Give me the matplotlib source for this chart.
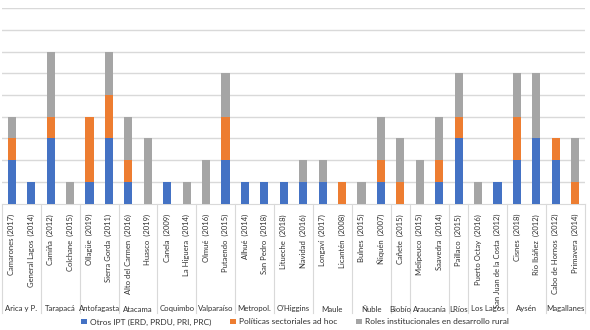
import numpy as np
import matplotlib
matplotlib.use("Agg")
import matplotlib.pyplot as plt
import matplotlib.transforms as mtransforms

plt.rcParams['font.family'] = ['Lato', 'DejaVu Sans']

# communes (year of plan) in chart order
communes = ["Camarones (2017)", "General Lagos  (2014)", "Camiña  (2012)", "Colchane  (2015)",
            "Ollagüe  (2019)", "Sierra Gorda  (2011)", "Alto del Carmen  (2016)", "Huasco  (2019)",
            "Canela  (2009)", "La Higuera  (2014)", "Olmué  (2016)", "Putaendo  (2015)",
            "Alhué  (2014)", "San Pedro  (2018)", "Litueche  (2018)", "Navidad  (2016)",
            "Longaví  (2017)", "Licantén  (2008)", "Bulnes  (2015)", "Ñiquén  (2007)",
            "Cañete  (2015)", "Melipeuco  (2015)", "Saavedra  (2014)", "Paillaco  (2015)",
            "Puerto Octay  (2016)", "San Juan de la Costa  (2012)", "Cisnes  (2018)",
            "Río Ibáñez  (2012)", "Cabo de Hornos  (2012)", "Primavera  (2014)"]

regions = ["Arica y P.", "Tarapacá", "Antofagasta", "Atacama", "Coquimbo", "Valparaíso",
           "Metropol.", "O'Higgins", "Maule", "Ñuble", "Biobío", "Araucanía", "LRíos",
           "Los Lagos", "Aysén", "Magallanes"]
region_sizes = [2, 2, 2, 2, 2, 2, 2, 2, 2, 2, 1, 2, 1, 2, 2, 2]

otros_ipt = [2, 1, 3, 0, 1, 3, 1, 0, 1, 0, 0, 2, 1, 1, 1, 1, 1, 0, 0, 1,
             0, 0, 1, 3, 0, 1, 2, 3, 2, 0]
politicas = [1, 0, 1, 0, 3, 2, 1, 0, 0, 0, 0, 2, 0, 0, 0, 0, 0, 1, 0, 1,
             1, 0, 1, 1, 0, 0, 2, 0, 1, 1]
roles = [1, 0, 3, 1, 0, 2, 2, 3, 0, 1, 2, 2, 0, 0, 0, 1, 1, 0, 1, 2,
         2, 2, 2, 2, 1, 0, 2, 3, 0, 2]

series_names = ["Otros IPT (ERD, PRDU, PRI, PRC)", "Políticas sectoriales ad hoc",
                "Roles institucionales en desarrollo rural"]
colors = ["#4472C4", "#ED7D31", "#A5A5A5"]

fig = plt.figure(figsize=(5.9, 3.3), dpi=100)
ax = fig.add_axes([2 / 590, 1 - 203.5 / 330, 583 / 590, 195.3 / 330])

x = np.arange(len(communes))
bottom = np.zeros(len(communes))
for vals, name, c in zip([otros_ipt, politicas, roles], series_names, colors):
    ax.bar(x, vals, 0.42, bottom=bottom, color=c, label=name, zorder=3)
    bottom += np.array(vals)

ax.set_xlim(-0.5, len(communes) - 0.5)
ax.set_ylim(0, 9)
ax.set_yticks(np.arange(1, 10))
ax.yaxis.grid(True, color="#d9d9d9", linewidth=1)
ax.tick_params(left=False, labelleft=False, bottom=False)
for s in ["left", "right", "top"]:
    ax.spines[s].set_visible(False)
ax.spines["bottom"].set_color("#d9d9d9")

ax.set_xticks(x)
ax.set_xticklabels(communes, rotation=90, fontsize=5.5, color="#303030", va="top")
ax.tick_params(axis="x", pad=4)

# region separators and labels below the ticks
trans = mtransforms.blended_transform_factory(ax.transData, ax.transAxes)
edges = np.concatenate([[0], np.cumsum(region_sizes)]) - 0.5
y_sep = -(313 - 203.5) / 195.3
for e in edges:
    ax.plot([e, e], [0, y_sep], color="#d9d9d9", linewidth=0.8, transform=trans, clip_on=False)
y_reg = -(309 - 203.5) / 195.3
for i, r in enumerate(regions):
    ax.text((edges[i] + edges[i + 1]) / 2, y_reg, r, transform=trans, ha="center", va="center",
            fontsize=5.6, color="#303030")

fig.legend(loc="center", bbox_to_anchor=(0.5, 1 - 322 / 330), ncol=3, frameon=False,
           fontsize=6, handlelength=0.7, handleheight=0.7, columnspacing=2.2, handletextpad=0.4,
           labelcolor="#303030")

fig.savefig("out.png", dpi=100)
